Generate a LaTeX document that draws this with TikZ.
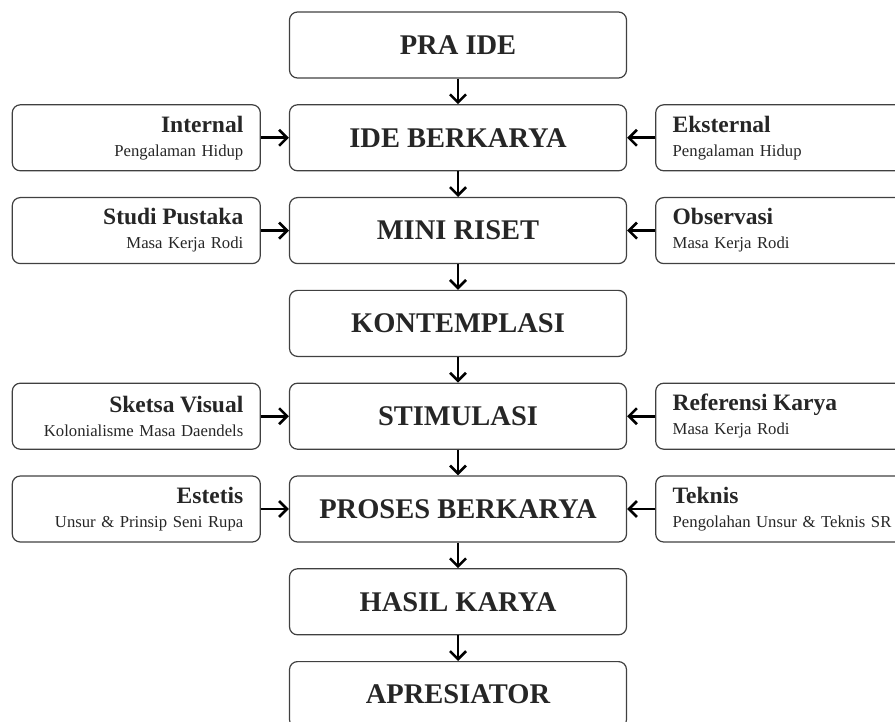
\documentclass[tikz,border=0pt]{standalone}
\usepackage{fontspec}
\setmainfont{Liberation Serif}
\usetikzlibrary{positioning,arrows.meta}
\newcommand\sidetitle[1]{{\fontsize{23.5}{24}\selectfont\bfseries #1}}
\begin{document}
\begin{tikzpicture}[x=1pt,y=-1pt,
        node distance=25.6pt and 28pt,
        box/.style={draw=black!75,line width=1.2pt,rounded corners=8pt,minimum width=337pt,minimum height=66pt,
            font=\fontsize{28.5}{30}\selectfont\bfseries,text=black!85},
        sidel/.style={draw=black!75,line width=1.2pt,rounded corners=8pt,minimum height=66pt,text width=214pt,
            inner xsep=17pt,align=right,font=\fontsize{16.7}{24}\selectfont,text=black!85},
        sider/.style={sidel,align=left,text width=250pt},
        arr/.style={-{Straight Barb[length=8pt,width=16pt,line width=2.6pt]},line width=2.8pt}]

    \useasboundingbox (0,0) rectangle (895,722);
    \clip (0,0) rectangle (895,722);

    % main flow
    \node[box] (pra) at (458,45) {PRA IDE};
    \node[box,below=of pra] (ide) {IDE BERKARYA};
    \node[box,below=of ide] (riset) {MINI RISET};
    \node[box,below=of riset] (kontemplasi) {KONTEMPLASI};
    \node[box,below=of kontemplasi] (stimulasi) {STIMULASI};
    \node[box,below=of stimulasi] (proses) {PROSES BERKARYA};
    \node[box,below=of proses] (hasil) {HASIL KARYA};
    \node[box,below=of hasil] (apresiator) {APRESIATOR};

    % side inputs
    \node[sidel,left=of ide] (internal) {\sidetitle{Internal}\\Pengalaman Hidup};
    \node[sider,right=of ide] (eksternal) {\sidetitle{Eksternal}\\Pengalaman Hidup};
    \node[sidel,left=of riset] (pustaka) {\sidetitle{Studi Pustaka}\\Masa Kerja Rodi};
    \node[sider,right=of riset] (observasi) {\sidetitle{Observasi}\\Masa Kerja Rodi};
    \node[sidel,left=of stimulasi] (sketsa) {\sidetitle{Sketsa Visual}\\Kolonialisme Masa Daendels};
    \node[sider,right=of stimulasi] (referensi) {\sidetitle{Referensi Karya}\\Masa Kerja Rodi};
    \node[sidel,left=of proses] (estetis) {\sidetitle{Estetis}\\Unsur \& Prinsip Seni Rupa};
    \node[sider,right=of proses] (teknis) {\sidetitle{Teknis}\\Pengolahan Unsur \& Teknis SR};

    \foreach \a/\b in {pra/ide,ide/riset,riset/kontemplasi,kontemplasi/stimulasi,
            stimulasi/proses,proses/hasil,hasil/apresiator}
        \draw[arr] (\a) -- (\b);
    \foreach \a/\b in {internal/ide,eksternal/ide,pustaka/riset,observasi/riset,
            sketsa/stimulasi,referensi/stimulasi,estetis/proses,teknis/proses}
        \draw[arr] (\a) -- (\b);
\end{tikzpicture}
\end{document}
